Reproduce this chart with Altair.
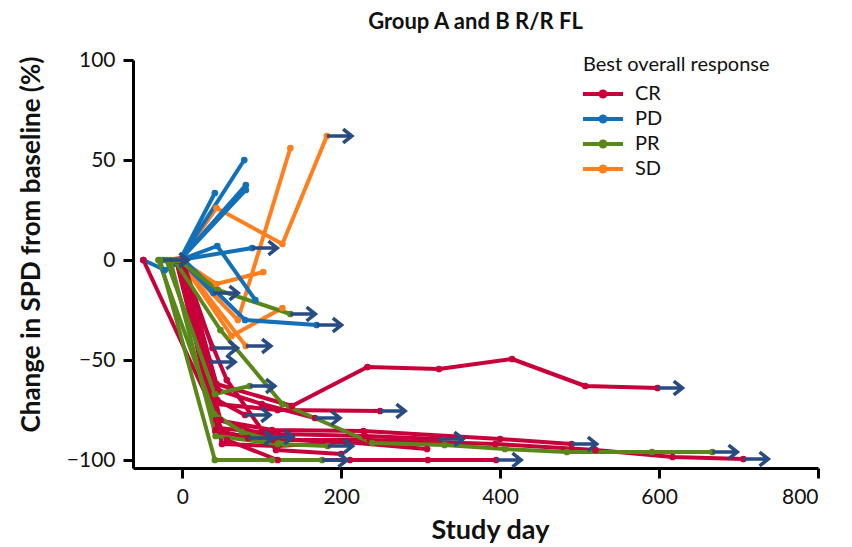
import altair as alt
import pandas as pd

RESPONSES = ["CR", "PD", "PR", "SD"]
COLORS = ["#C8003A", "#1170B8", "#5A8719", "#FF7F1E"]
ARROW_COLOR = "#284B82"

# one entry per patient
PATIENT_RESPONSE = [
    "SD", "SD", "SD", "SD", "SD",
    "PD", "PD", "PD", "PD", "PD", "PD", "PD", "PD", "PD",
    "CR", "CR", "CR", "CR", "CR", "CR", "CR", "CR", "CR", "CR", "CR", "CR", "CR", "CR",
    "PR", "PR", "PR", "PR", "PR", "PR",
]
PATIENT_DAYS = [
    [-3, 43, 126, 182],
    [-3, 70, 136],
    [-3, 43, 102],
    [-3, 62, 126],
    [-3, 80],
    [-3, 78],
    [-3, 80],
    [-3, 80],
    [-3, 41],
    [-3, 44, 92],
    [-3, 88],
    [-49, -22, 2, 79, 169],
    [-24],
    [-3, 39],
    [-49, 56, 120, 211, 309, 395],
    [-3, 43, 138, 233, 323, 415, 507, 598],
    [-5, 43, 120, 249],
    [-3, 43, 113, 228, 400, 490],
    [-8, 45, 120, 230, 322],
    [-2, 42, 115, 236, 394, 520, 617, 706],
    [0, 35],
    [-4, 44, 79],
    [-6, 42, 83],
    [-2, 48, 108],
    [0, 45, 100, 167],
    [0, 38],
    [-3, 50, 120, 205, 308],
    [-7, 56, 118, 200],
    [-28, 41, 113, 176],
    [-15, 42, 120, 183],
    [-5, 45, 136],
    [-20, 41, 85],
    [-10, 48, 126, 239, 330, 406, 484, 591, 667],
    [-30, 40, 75, 130],
]
PATIENT_PCT = [
    [0, 26, 8, 62],
    [0, -30, 56],
    [0, -12, -6],
    [0, -38, -24],
    [0, -43],
    [0, 50],
    [0, 37.5],
    [0, 35],
    [0, 33.5],
    [0, 7, -20],
    [0, 6],
    [0, -5, 0, -30, -32.5],
    [0],
    [0, -16.5],
    [0, -90, -100, -100, -100, -100],
    [0, -62, -73, -53.5, -54.5, -49.5, -63, -64],
    [0, -72, -75, -75.5],
    [0, -80, -85, -85.5, -89.5, -92],
    [0, -84, -87, -88, -89.5],
    [0, -86, -90, -90, -92, -95, -98.5, -99.5],
    [0, -51],
    [0, -70, -77.5],
    [0, -85, -89],
    [0, -80, -88.5],
    [0, -65, -72, -79],
    [0, -44],
    [0, -92, -93, -91, -94.5],
    [0, -60, -95, -97],
    [0, -100, -100, -100],
    [0, -88, -92, -93],
    [0, -15, -27],
    [0, -67, -63],
    [0, -35, -72, -91.5, -92.5, -94.5, -96, -96, -96],
    [0, -77, -86, -92],
]
PATIENT_ONGOING = [
    True, False, False, False, True,
    False, False, False, False, False, True, True, True, True,
    True, True, True, True, True, True, True, True, True, True, True, True, False, False,
    True, True, True, True, True, False,
]

rows = []
ends = []
for i, (resp, days, pcts, ongoing) in enumerate(
    zip(PATIENT_RESPONSE, PATIENT_DAYS, PATIENT_PCT, PATIENT_ONGOING)
):
    for j, (d, p) in enumerate(zip(days, pcts)):
        rows.append({"patient": i, "response": resp, "day": d, "pct": p, "seq": j})
    if ongoing:
        ends.append({"patient": i, "response": resp, "day": days[-1], "pct": pcts[-1]})

df = pd.DataFrame(rows)
df_end = pd.DataFrame(ends)

FONT = "Lato"
color_scale = alt.Scale(domain=RESPONSES, range=COLORS)
x_enc = alt.X(
    "day:Q",
    scale=alt.Scale(domain=[-62, 800], nice=False, zero=False),
    axis=alt.Axis(
        values=[0, 200, 400, 600, 800],
        title="Study day",
        titleX=357,
        titleY=62,
        titleBaseline="middle",
    ),
)
y_enc = alt.Y(
    "pct:Q",
    scale=alt.Scale(domain=[-104, 100], nice=False, zero=False),
    axis=alt.Axis(
        values=[-100, -50, 0, 50, 100],
        title="Change in SPD from baseline (%)",
        titleX=-102,
        titleY=184,
        titleAngle=-90,
        titleAlign="center",
        titleBaseline="middle",
        titleFontSize=26,
    ),
)

layers = []
for resp in ["SD", "PD", "CR", "PR"]:
    layers.append(
        alt.Chart(df[df.response == resp])
        .mark_line(strokeWidth=4, strokeJoin="round")
        .encode(
            x=x_enc,
            y=y_enc,
            color=alt.Color("response:N", scale=color_scale, legend=None),
            detail="patient:N",
            order="seq:Q",
        )
    )

LEGEND_SYMBOL = (
    "M-1,-0.2L3,-0.2L3,0.2L-1,0.2Z"
    "M1.45,0A0.45,0.45,0,1,1,0.55,0A0.45,0.45,0,1,1,1.45,0Z"
)
points = (
    alt.Chart(df)
    .mark_point(filled=True, size=45, opacity=1)
    .encode(
        x=x_enc,
        y=y_enc,
        color=alt.Color(
            "response:N",
            scale=color_scale,
            legend=alt.Legend(
                title="Best overall response",
                orient="none",
                legendX=450,
                legendY=-5,
                symbolType=LEGEND_SYMBOL,
                symbolSize=400,
                symbolStrokeWidth=0,
                symbolOpacity=1,
                labelOffset=32,
                labelFontSize=20,
                titleFontSize=20,
                titleFontWeight="normal",
                titleLimit=400,
                labelLimit=300,
                titlePadding=9,
                rowPadding=5,
                padding=0,
                labelFont=FONT,
                titleFont=FONT,
                labelColor="#111",
                titleColor="#111",
            ),
        ),
    )
)

ARROW = "M0,0L2,0M1.3,-0.55L2,0L1.3,0.55"
arrows = (
    alt.Chart(df_end)
    .mark_point(
        shape=ARROW,
        size=625,
        filled=False,
        stroke=ARROW_COLOR,
        strokeWidth=3.5,
        opacity=1,
    )
    .encode(x=x_enc, y=y_enc)
)

chart = (
    alt.layer(*layers, points, arrows)
    .resolve_legend(color="independent")
    .properties(
        width=685,
        height=408,
        autosize=alt.AutoSizeParams(type="none"),
        padding={"left": 125, "top": 52, "right": 26, "bottom": 79},
        title=alt.Title(
            "Group A and B R/R FL",
            fontSize=22,
            fontWeight="bold",
            font=FONT,
            color="#111",
            anchor="middle",
            offset=15,
        ),
    )
    .configure_view(stroke=None)
    .configure_axis(
        grid=False,
        domainColor="black",
        domainWidth=3,
        tickColor="black",
        tickWidth=3,
        tickSize=10,
        labelFont=FONT,
        labelFontSize=21,
        labelColor="#111",
        labelPadding=8,
        titleFont=FONT,
        titleFontSize=27,
        titleFontWeight="bold",
        titleColor="#111",
    )
)

chart.save("out.html", embed_options={"renderer": "svg", "actions": False})
